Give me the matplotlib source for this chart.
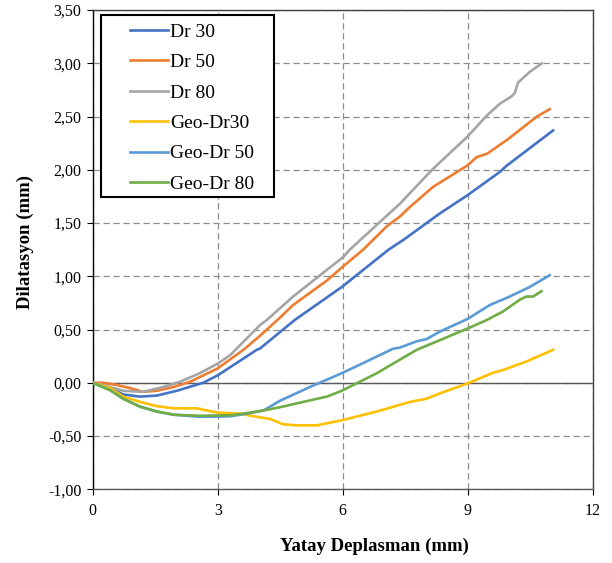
import matplotlib
matplotlib.use("Agg")
import matplotlib.pyplot as plt
from matplotlib.ticker import FuncFormatter
from matplotlib.patches import Rectangle

plt.rcParams['font.family'] = ['Liberation Serif', 'DejaVu Serif']

dr30_x = [0, 0.42, 0.73, 1.14, 1.54, 2.02, 2.65, 3.0, 3.94, 4.01, 4.85, 5.98, 7.1, 7.45, 8.33, 8.99, 9.77, 9.94, 11.05]
dr30_y = [0, -0.05, -0.11, -0.13, -0.12, -0.075, 0.0, 0.07, 0.31, 0.32, 0.59, 0.90, 1.25, 1.34, 1.59, 1.76, 1.98, 2.04, 2.37]

dr50_x = [0, 0.25, 0.57, 0.9, 1.21, 1.54, 1.94, 2.34, 3.0, 3.62, 4.01, 4.49, 4.81, 5.62, 6.0, 6.49, 7.06, 7.37, 7.61, 8.17, 8.99, 9.22, 9.46, 9.94, 10.66, 10.97]
dr50_y = [0, 0.0, -0.02, -0.05, -0.085, -0.075, -0.04, 0.01, 0.135, 0.31, 0.44, 0.61, 0.73, 0.96, 1.09, 1.25, 1.47, 1.56, 1.65, 1.84, 2.04, 2.12, 2.15, 2.28, 2.50, 2.57]

dr80_x = [0, 0.42, 0.73, 1.21, 1.69, 2.10, 2.57, 3.0, 3.30, 4.01, 4.18, 4.81, 5.62, 6.01, 6.17, 7.06, 7.37, 7.61, 8.17, 8.99, 9.46, 9.77, 10.05, 10.13, 10.21, 10.49, 10.78]
dr80_y = [0, -0.04, -0.075, -0.085, -0.04, 0.01, 0.09, 0.18, 0.26, 0.54, 0.59, 0.81, 1.06, 1.18, 1.25, 1.57, 1.68, 1.78, 2.01, 2.31, 2.51, 2.62, 2.69, 2.72, 2.82, 2.92, 3.00]

geo30_x = [0, 0.42, 0.73, 1.14, 1.54, 1.94, 2.50, 2.74, 3.0, 3.54, 3.94, 4.26, 4.57, 4.89, 5.38, 6.0, 6.82, 7.61, 8.01, 8.33, 9.0, 9.61, 9.85, 10.41, 11.05]
geo30_y = [0, -0.05, -0.13, -0.18, -0.22, -0.24, -0.24, -0.26, -0.28, -0.29, -0.32, -0.34, -0.39, -0.40, -0.40, -0.35, -0.27, -0.18, -0.15, -0.10, -0.006, 0.094, 0.12, 0.20, 0.31]

geo50_x = [0, 0.42, 0.73, 1.14, 1.54, 1.94, 2.57, 3.3, 3.7, 4.1, 4.49, 5.21, 5.98, 6.41, 7.21, 7.37, 7.78, 8.01, 8.33, 9.0, 9.53, 10.01, 10.49, 10.97]
geo50_y = [0, -0.07, -0.15, -0.225, -0.27, -0.30, -0.32, -0.315, -0.29, -0.26, -0.17, -0.04, 0.09, 0.17, 0.32, 0.33, 0.39, 0.41, 0.48, 0.60, 0.73, 0.81, 0.90, 1.01]

geo80_x = [0, 0.42, 0.73, 1.14, 1.54, 1.94, 2.57, 3.3, 3.7, 4.1, 4.49, 5.05, 5.62, 5.98, 6.41, 6.82, 7.21, 7.78, 8.33, 9.0, 9.46, 9.85, 10.25, 10.41, 10.57, 10.77]
geo80_y = [0, -0.07, -0.15, -0.225, -0.27, -0.30, -0.31, -0.305, -0.285, -0.26, -0.23, -0.18, -0.13, -0.075, 0.01, 0.09, 0.18, 0.31, 0.40, 0.51, 0.59, 0.67, 0.78, 0.81, 0.81, 0.86]

series = [
    ("Dr 30", dr30_x, dr30_y, "#4472C4"),
    ("Dr 50", dr50_x, dr50_y, "#ED7D31"),
    ("Dr 80", dr80_x, dr80_y, "#A5A5A5"),
    ("Geo-Dr30", geo30_x, geo30_y, "#FFC000"),
    ("Geo-Dr 50", geo50_x, geo50_y, "#5B9BD5"),
    ("Geo-Dr 80", geo80_x, geo80_y, "#70AD47"),
]

x_ticks = [0, 3, 6, 9, 12]
y_ticks = [-1.0, -0.5, 0.0, 0.5, 1.0, 1.5, 2.0, 2.5, 3.0, 3.5]

fig = plt.figure(figsize=(6.12, 5.63), dpi=100)
ax = fig.add_axes([0.1515, 0.131, 0.8169, 0.851])

ax.set_xlim(0, 12)
ax.set_ylim(-1.0, 3.5)
ax.set_xticks(x_ticks)
ax.set_yticks(y_ticks)
ax.grid(True, linestyle=(0, (5, 3)), color="#8c8c8c", linewidth=0.9)
ax.set_axisbelow(True)
ax.axhline(0, color="#595959", linewidth=1.0, zorder=1.5)

for label, xs, ys, c in series:
    ax.plot(xs, ys, color=c, linewidth=1.9, label=label, zorder=3)

ax.yaxis.set_major_formatter(FuncFormatter(lambda v, p: f"{v:.2f}".replace('.', ',')))
ax.xaxis.set_major_formatter(FuncFormatter(lambda v, p: f"{v:g}"))
ax.tick_params(axis='both', labelsize=11.5, length=4, width=0.8, direction='out', colors='black')
ax.tick_params(axis='x', pad=6)
ax.tick_params(axis='y', pad=4)

for s in ax.spines.values():
    s.set_color("#404040")
    s.set_linewidth(1.0)
ax.spines['left'].set_color('black')
ax.spines['bottom'].set_color('#595959')

ax.set_xlabel("Yatay Deplasman (mm)", fontsize=13.5, fontweight='bold')
ax.set_ylabel("Dilatasyon (mm)", fontsize=13.5, fontweight='bold')
ax.xaxis.set_label_coords(0.563, -0.102)
ax.yaxis.set_label_coords(-0.117, 0.516)

# legend box (Excel-style, wide padding)
ax.add_patch(Rectangle((0.0166, 0.6097), 0.346, 0.3803, transform=ax.transAxes,
                       facecolor='white', edgecolor='black', linewidth=1.5, zorder=4))
leg = ax.legend(loc='upper left', bbox_to_anchor=(0.0746, 0.973), fontsize=14,
                frameon=False, handlelength=1.95, handletextpad=0.1, labelspacing=0.66,
                borderpad=0.0, borderaxespad=0.0)
leg.set_zorder(5)

fig.savefig("out.png", dpi=100)
